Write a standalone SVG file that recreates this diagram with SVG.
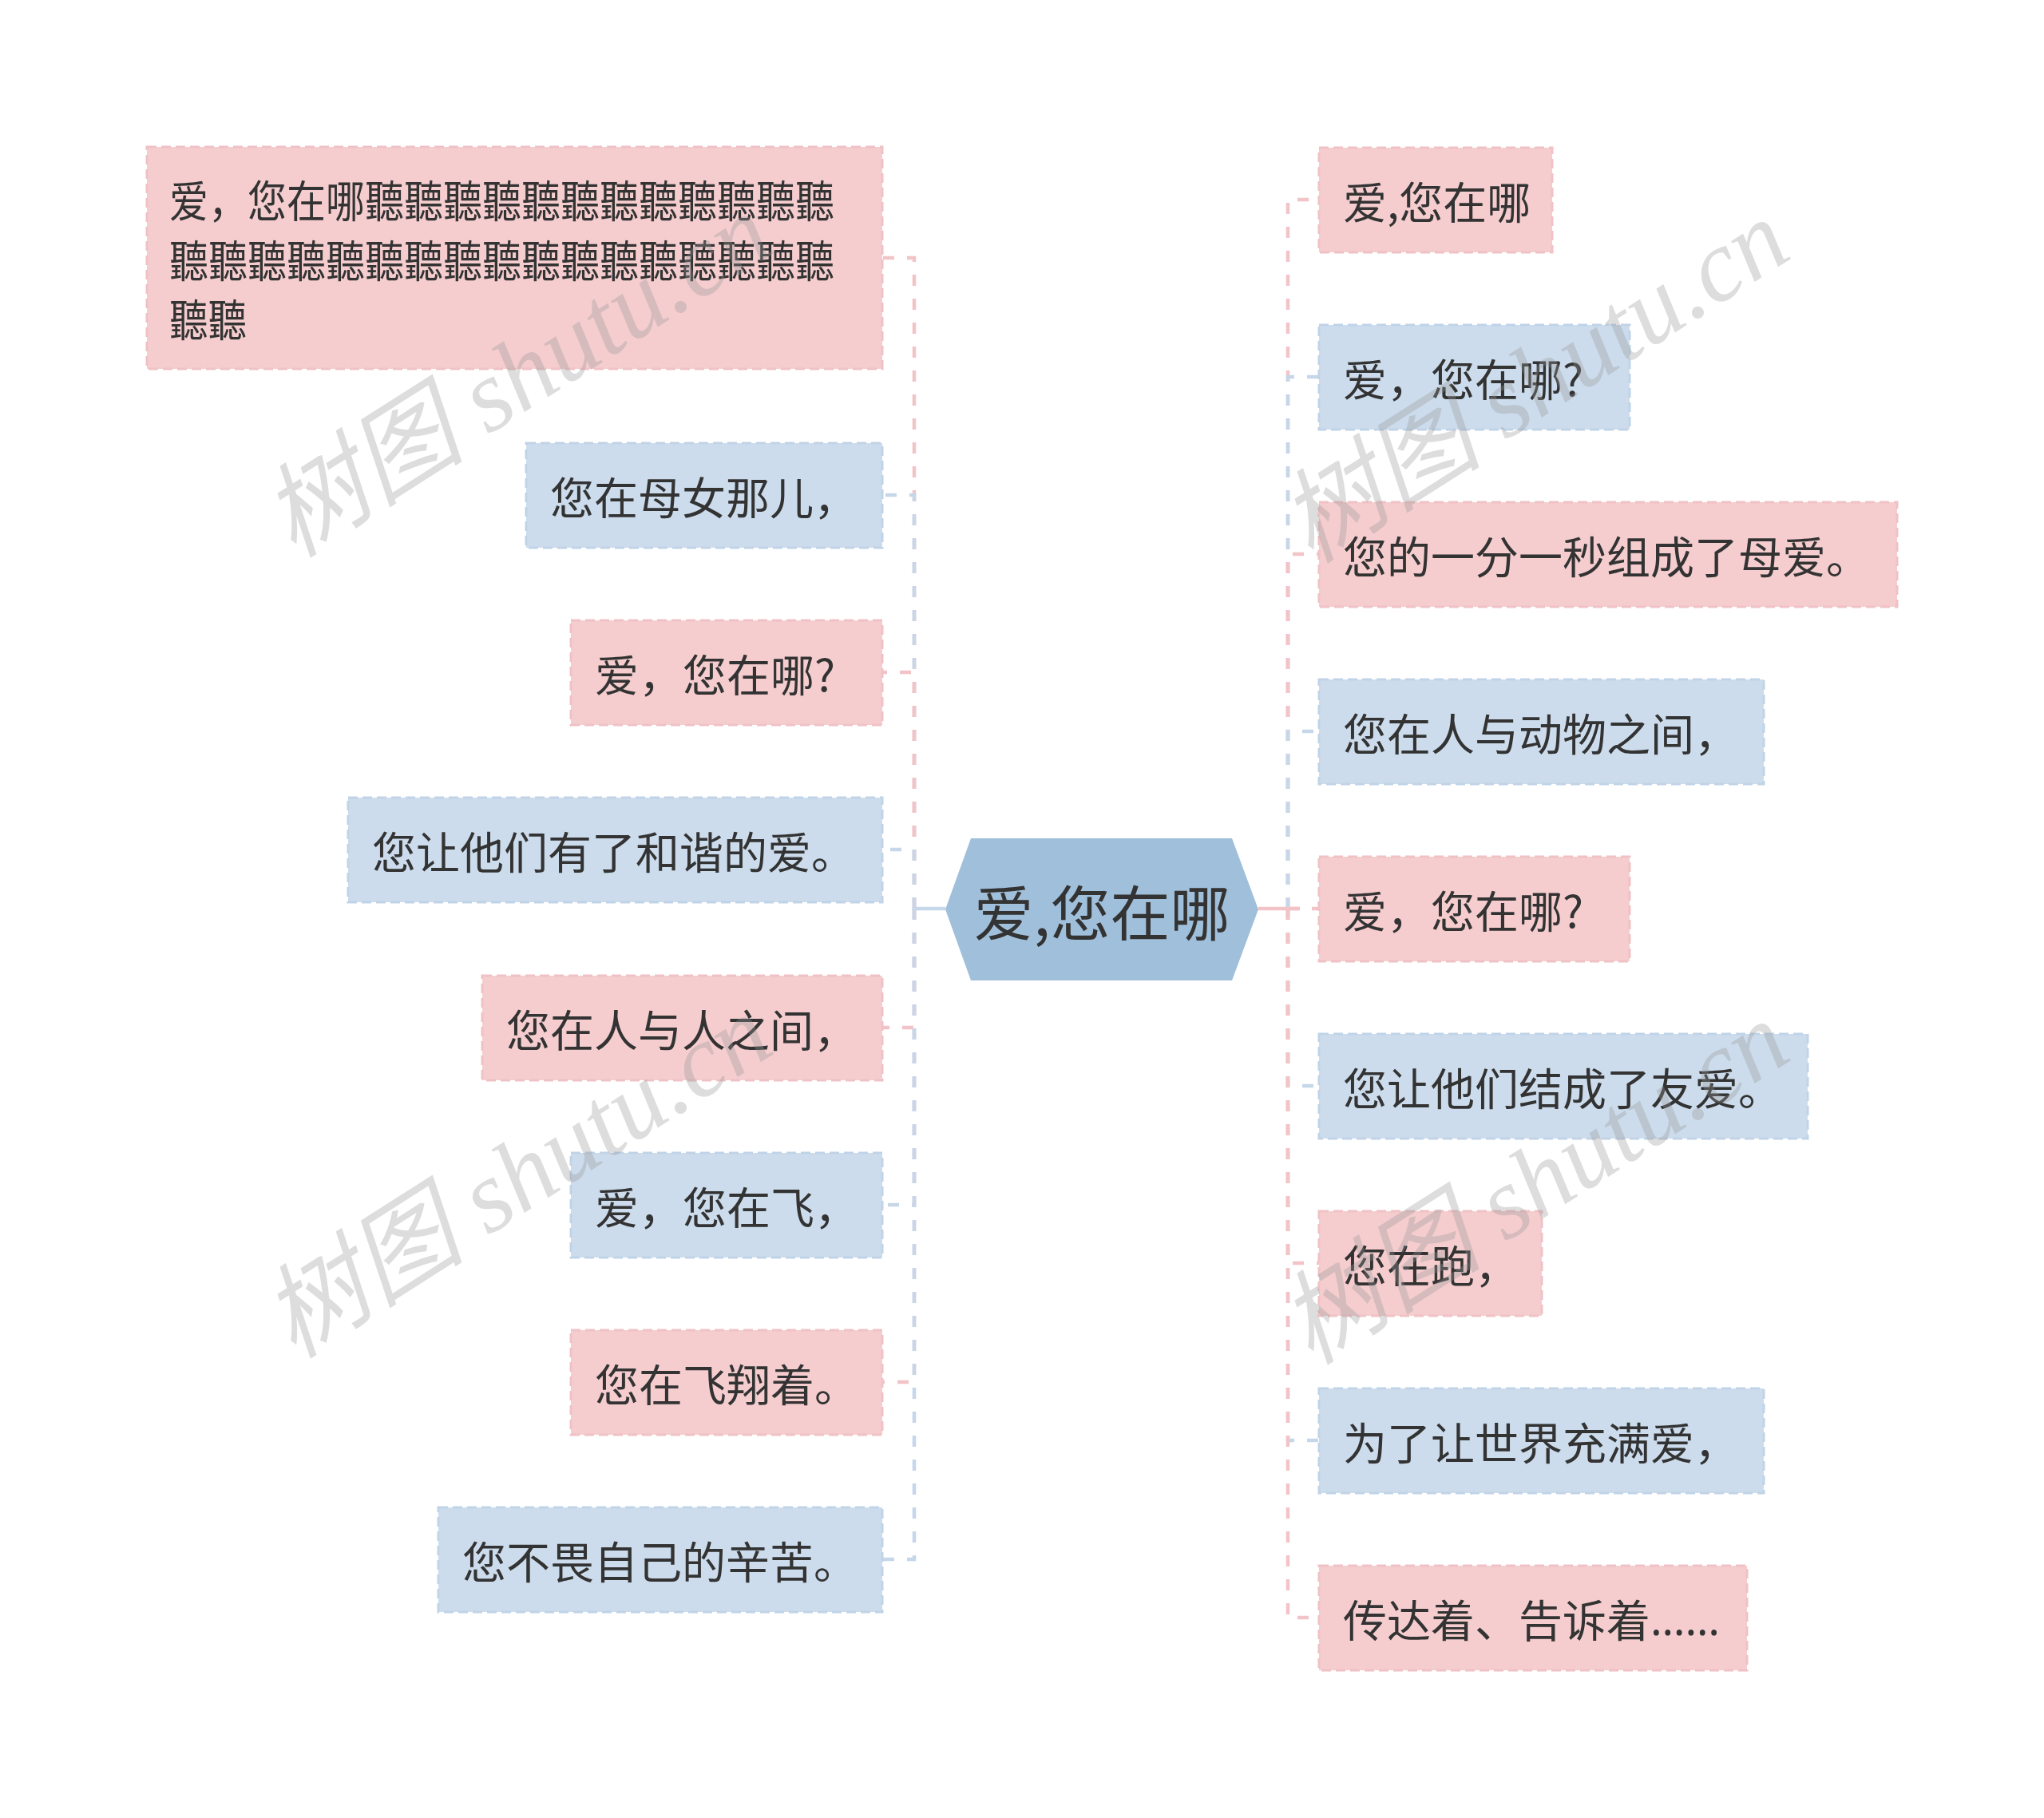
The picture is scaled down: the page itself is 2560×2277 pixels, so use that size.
<svg xmlns="http://www.w3.org/2000/svg" width="2560" height="2277" viewBox="0 0 2560 2277">
<style>
.t{font-family:"Noto Sans CJK SC","Noto Sans",sans-serif;font-size:55px;fill:#333333;dominant-baseline:central}
.pk{fill:#f5cdcf;stroke:#f0c2c5;stroke-width:3;stroke-dasharray:12 6}
.bl{fill:#ccdcec;stroke:#c0d3e7;stroke-width:3;stroke-dasharray:12 6}
.lp{fill:none;stroke:#f2c4c7;stroke-width:4.5;stroke-dasharray:14 16}
.lb{fill:none;stroke:#c5d7e9;stroke-width:4.5;stroke-dasharray:14 16}
.wm{font-family:"Liberation Serif","Noto Sans CJK SC",serif;font-style:italic;font-size:128px;fill:#999999;opacity:0.33}
</style>
<rect width="2560" height="2277" fill="#ffffff"/>
<g id="connectors">
<path class="lp" d="M1145,1138 V323 H1105"/>
<path class="lb" d="M1145,1138 V620 H1105"/>
<path class="lp" d="M1145,1138 V842 H1105"/>
<path class="lb" d="M1145,1138 V1064 H1105"/>
<path class="lp" d="M1145,1138 V1287 H1105"/>
<path class="lb" d="M1145,1138 V1509 H1105"/>
<path class="lp" d="M1145,1138 V1731 H1105"/>
<path class="lb" d="M1145,1138 V1953 H1105"/>
<path d="M1184,1138 H1143" stroke="#c5d7e9" stroke-width="4.5" fill="none"/>
<path class="lp" d="M1613,1138 V250 H1652"/>
<path class="lb" d="M1613,1138 V472 H1652"/>
<path class="lp" d="M1613,1138 V694 H1652"/>
<path class="lb" d="M1613,1138 V916 H1652"/>
<path class="lp" d="M1613,1138 H1652"/>
<path class="lb" d="M1613,1138 V1360 H1652"/>
<path class="lp" d="M1613,1138 V1582 H1652"/>
<path class="lb" d="M1613,1138 V1804 H1652"/>
<path class="lp" d="M1613,1138 V2026 H1652"/>
<path d="M1576,1138 H1628" stroke="#f2c4c7" stroke-width="4.5" fill="none"/>
</g>
<g id="center">
<polygon points="1184,1139 1216,1050 1543,1050 1576,1139 1543,1228 1216,1228" fill="#a0bfdb"/>
<text x="1380" y="1139" class="t" style="font-size:75px" text-anchor="middle">爱,您在哪</text>
</g>
<g id="L1"><rect class="pk" x="184" y="184" width="921" height="278"/>
<text class="t" x="212" y="248" textLength="833" lengthAdjust="spacingAndGlyphs">爱，您在哪聽聽聽聽聽聽聽聽聽聽聽聽</text>
<text class="t" x="212" y="323" textLength="833" lengthAdjust="spacingAndGlyphs">聽聽聽聽聽聽聽聽聽聽聽聽聽聽聽聽聽</text>
<text class="t" x="212" y="397" textLength="97" lengthAdjust="spacingAndGlyphs">聽聽</text></g>
<g id="L2"><rect class="bl" x="659" y="555" width="446" height="131"/><text class="t" x="689" y="620">您在母女那儿，</text></g>
<g id="L3"><rect class="pk" x="715" y="777" width="390" height="131"/><text class="t" x="745" y="842">爱，您在哪?</text></g>
<g id="L4"><rect class="bl" x="436" y="999" width="669" height="131"/><text class="t" x="466" y="1064">您让他们有了和谐的爱。</text></g>
<g id="L5"><rect class="pk" x="604" y="1222" width="501" height="131"/><text class="t" x="634" y="1287">您在人与人之间，</text></g>
<g id="L6"><rect class="bl" x="715" y="1444" width="390" height="131"/><text class="t" x="745" y="1509">爱，您在飞，</text></g>
<g id="L7"><rect class="pk" x="715" y="1666" width="390" height="131"/><text class="t" x="745" y="1731">您在飞翔着。</text></g>
<g id="L8"><rect class="bl" x="549" y="1888" width="556" height="131"/><text class="t" x="579" y="1953">您不畏自己的辛苦。</text></g>
<g id="R1"><rect class="pk" x="1652" y="185" width="292" height="131"/><text class="t" x="1682" y="250">爱,您在哪</text></g>
<g id="R2"><rect class="bl" x="1652" y="407" width="389" height="131"/><text class="t" x="1682" y="472">爱，您在哪?</text></g>
<g id="R3"><rect class="pk" x="1652" y="629" width="724" height="131"/><text class="t" x="1682" y="694">您的一分一秒组成了母爱。</text></g>
<g id="R4"><rect class="bl" x="1652" y="851" width="557" height="131"/><text class="t" x="1682" y="916">您在人与动物之间，</text></g>
<g id="R5"><rect class="pk" x="1652" y="1073" width="389" height="131"/><text class="t" x="1682" y="1138">爱，您在哪?</text></g>
<g id="R6"><rect class="bl" x="1652" y="1295" width="612" height="131"/><text class="t" x="1682" y="1360">您让他们结成了友爱。</text></g>
<g id="R7"><rect class="pk" x="1652" y="1517" width="279" height="131"/><text class="t" x="1682" y="1582">您在跑，</text></g>
<g id="R8"><rect class="bl" x="1652" y="1739" width="557" height="131"/><text class="t" x="1682" y="1804">为了让世界充满爱，</text></g>
<g id="R9"><rect class="pk" x="1652" y="1961" width="536" height="131"/><text class="t" x="1682" y="2026">传达着、告诉着<tspan style="font-family:'Noto Sans',sans-serif">……</tspan></text></g>
<g id="watermark">
<text class="wm" transform="translate(368,700) rotate(-32.5)">树图 shutu.cn</text>
<text class="wm" transform="translate(1642,707) rotate(-32.5)">树图 shutu.cn</text>
<text class="wm" transform="translate(368,1703) rotate(-32.5)">树图 shutu.cn</text>
<text class="wm" transform="translate(1642,1711) rotate(-32.5)">树图 shutu.cn</text>
</g>
</svg>
